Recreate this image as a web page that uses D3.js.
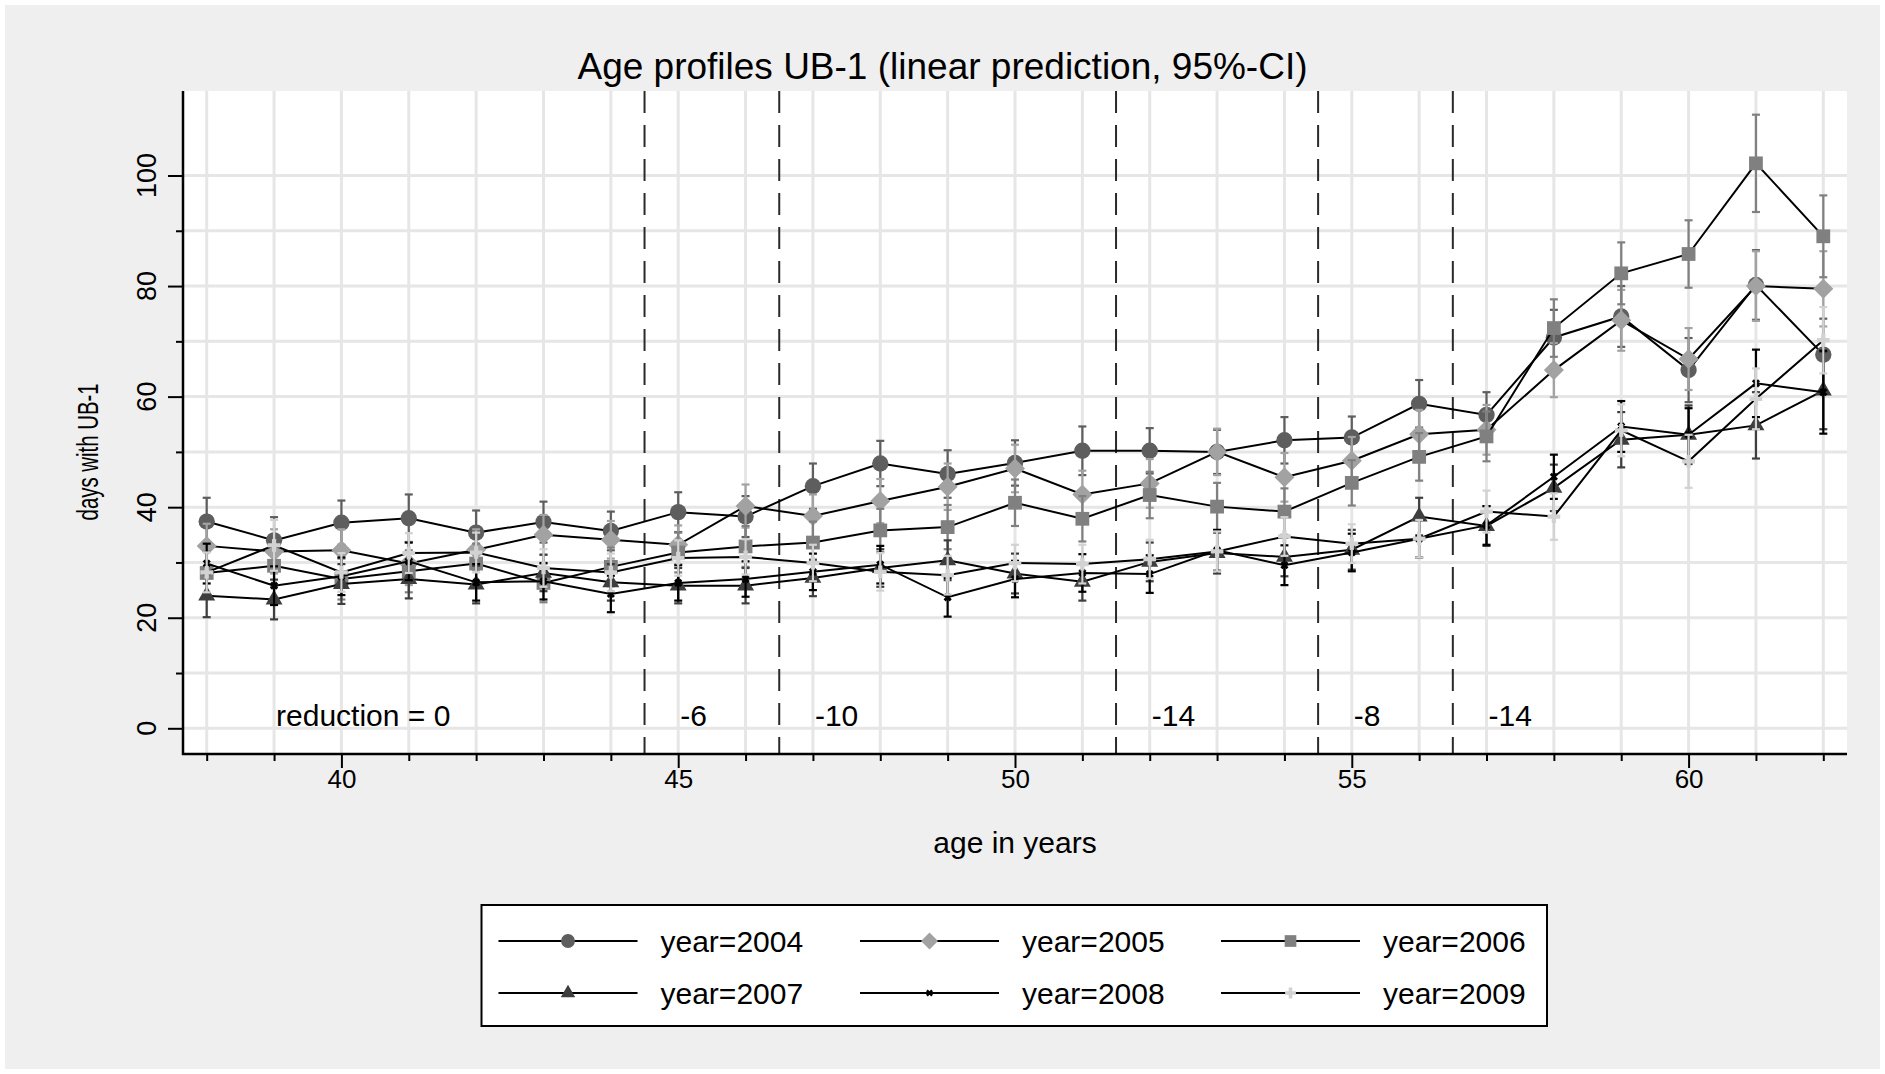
<!DOCTYPE html>
<html>
<head>
<meta charset="utf-8">
<script src="https://cdn.jsdelivr.net/npm/d3@7"></script>
<style>
  body { margin: 0; background: #fff; }
  svg { display: block; font-family: "Liberation Sans", Arial, Helvetica, sans-serif; }
</style>
</head>
<body>
<svg id="chart" width="1885" height="1074"></svg>
<script>
// ── data ───────────────────────────────────────────────────────────────────
const ages = [38, 39, 40, 41, 42, 43, 44, 45, 46, 47, 48, 49, 50, 51, 52, 53, 54, 55, 56, 57, 58, 59, 60, 61, 62];

const years = ['2004', '2005', '2006', '2007', '2008', '2009'];

const days2004 = [37.4, 34.0, 37.2, 38.0, 35.4, 37.3, 35.7, 39.1, 38.3, 43.8, 47.9, 46.0, 48.0, 50.2, 50.2, 50.0, 52.1, 52.6, 58.7, 56.7, 70.7, 74.5, 64.8, 80.2, 67.6];
const days2005 = [33.0, 32.0, 32.2, 29.8, 32.3, 35.0, 34.1, 33.2, 40.2, 38.4, 41.1, 43.7, 47.0, 42.3, 44.3, 50.0, 45.4, 48.4, 53.2, 54.0, 64.8, 73.8, 66.8, 80.0, 79.5];
const days2006 = [28.1, 29.4, 27.0, 28.4, 29.8, 26.3, 29.2, 31.8, 32.9, 33.6, 35.8, 36.4, 40.8, 37.9, 42.2, 40.1, 39.2, 44.4, 49.1, 52.8, 72.4, 82.3, 85.8, 102.2, 89.0];
const days2007 = [24.0, 23.3, 26.1, 27.0, 26.0, 28.1, 26.4, 25.8, 25.8, 27.2, 29.0, 30.4, 28.0, 26.5, 30.1, 31.7, 31.0, 32.3, 38.3, 36.6, 43.5, 52.2, 53.1, 54.8, 61.1];
const days2008 = [29.8, 25.8, 27.5, 30.2, 26.4, 26.6, 24.3, 26.3, 27.0, 28.3, 29.6, 23.7, 27.0, 28.1, 27.9, 32.2, 29.5, 31.8, 34.3, 36.7, 45.5, 54.6, 53.1, 62.4, 60.8];
const days2009 = [28.2, 33.1, 28.2, 31.7, 31.8, 29.0, 28.2, 30.8, 31.0, 29.9, 28.3, 27.7, 29.9, 29.7, 30.6, 32.0, 34.7, 33.4, 34.3, 39.2, 38.3, 53.9, 48.3, 59.6, 70.2];

// half width of the 95% CI
const ci2004 = [4.3, 4.2, 4.0, 4.3, 4.0, 3.7, 3.5, 3.6, 3.7, 4.1, 4.1, 4.3, 4.1, 4.4, 4.1, 4.0, 4.2, 3.8, 4.3, 4.1, 5.0, 5.5, 5.8, 6.3, 6.5];
const ci2005 = [4.0, 4.0, 3.8, 3.9, 3.7, 3.6, 3.4, 3.5, 3.9, 3.9, 4.0, 4.2, 4.3, 4.3, 4.4, 4.2, 4.4, 4.3, 4.4, 4.5, 4.9, 5.5, 5.6, 6.3, 6.8];
const ci2006 = [3.9, 3.8, 3.7, 3.8, 3.6, 3.5, 3.5, 3.6, 3.7, 3.8, 3.9, 4.0, 4.2, 4.1, 4.2, 4.3, 4.2, 4.1, 4.3, 4.5, 5.2, 5.6, 6.1, 8.8, 7.4];
const ci2007 = [3.9, 3.6, 3.6, 3.5, 3.4, 3.3, 3.3, 3.2, 3.2, 3.3, 3.4, 3.6, 3.6, 3.4, 3.5, 3.7, 3.5, 3.6, 3.4, 3.6, 4.2, 5.0, 5.3, 6.0, 7.0];
const ci2008 = [3.6, 3.5, 3.4, 3.4, 3.3, 3.3, 3.3, 3.2, 3.2, 3.3, 3.4, 3.5, 3.3, 3.4, 3.4, 3.7, 3.6, 3.4, 3.4, 3.5, 4.0, 4.6, 4.8, 6.1, 7.5];
const ci2009 = [3.6, 4.6, 3.5, 3.6, 3.6, 3.4, 3.4, 3.2, 3.2, 3.3, 3.4, 3.5, 3.3, 3.5, 3.5, 3.6, 3.5, 3.5, 3.4, 3.8, 4.2, 4.7, 4.8, 5.5, 6.0];

// reform cut-offs and reduction labels
const cutAges = [44.5, 46.5, 51.5, 54.5, 56.5];
const reductionAges = [39, 45, 47, 52, 55, 57];
const reductionLabels = ['reduction = 0', '-6', '-10', '-14', '-8', '-14'];

const yMajorTicks = [0, 20, 40, 60, 80, 100];
const yMinorTicks = [10, 30, 50, 70, 90];
const xMajorTicks = [40, 45, 50, 55, 60];

// ── styling per series ────────────────────────────────────────────────────
const seriesColor = ['#5e5e5e', '#a2a2a2', '#808080', '#3e3e3e', '#000000', '#d2d2d2'];
const seriesShape = ['circle', 'diamond', 'square', 'triangle', 'x', 'plus'];

const series = years.map((yr, i) => ({
  year: yr,
  color: seriesColor[i],
  shape: seriesShape[i],
  values: [days2004, days2005, days2006, days2007, days2008, days2009][i],
  ci: [ci2004, ci2005, ci2006, ci2007, ci2008, ci2009][i]
}));

const W = 1885, H = 1074;
const plot = { left: 183, right: 1847, top: 91, bottom: 754 };

const svg = d3.select('#chart');

const x = d3.scaleLinear().domain([38, 62]).range([206.7, 1823.3]);
const y = d3.scaleLinear().domain([0, 100]).range([728.3, 175.5]);

// backgrounds
svg.append('rect').attr('width', W).attr('height', H).attr('fill', '#ffffff');
svg.append('rect').attr('x', 5).attr('y', 5).attr('width', W - 10).attr('height', H - 10).attr('fill', '#efefef');
svg.append('rect')
  .attr('x', plot.left).attr('y', plot.top)
  .attr('width', plot.right - plot.left).attr('height', plot.bottom - plot.top)
  .attr('fill', '#ffffff');

// grid
const grid = svg.append('g').attr('stroke', '#e6e6e6').attr('stroke-width', 3);
grid.selectAll('line.h')
  .data(yMajorTicks.concat(yMinorTicks))
  .join('line')
  .attr('x1', plot.left).attr('x2', plot.right)
  .attr('y1', d => y(d)).attr('y2', d => y(d));
grid.selectAll('line.v')
  .data(ages)
  .join('line')
  .attr('class', 'v')
  .attr('y1', plot.top).attr('y2', plot.bottom)
  .attr('x1', d => x(d)).attr('x2', d => x(d));

// dashed cut-off lines
svg.append('g').selectAll('line')
  .data(cutAges)
  .join('line')
  .attr('x1', d => x(d)).attr('x2', d => x(d))
  .attr('y1', plot.top).attr('y2', plot.bottom)
  .attr('stroke', '#2a2a2a')
  .attr('stroke-width', 2)
  .attr('stroke-dasharray', '22,12');

// reduction labels
svg.append('g').selectAll('text')
  .data(reductionAges)
  .join('text')
  .attr('x', d => x(d) + 2)
  .attr('y', y(0) - 2)
  .attr('font-size', 30)
  .attr('fill', '#000')
  .text((d, i) => reductionLabels[i]);

// axes
const yAxisMinor = d3.axisLeft(y).tickValues(yMinorTicks).tickSize(7).tickFormat('');
const yAxisMajor = d3.axisLeft(y).tickValues(yMajorTicks).tickSize(15).tickFormat('');
const xAxisMinor = d3.axisBottom(x).tickValues(ages.filter(a => !xMajorTicks.includes(a))).tickSize(7).tickFormat('');
const xAxisMajor = d3.axisBottom(x).tickValues(xMajorTicks).tickSize(14).tickPadding(8).tickFormat(d3.format('d'));

[yAxisMinor, yAxisMajor].forEach(ax => {
  svg.append('g').attr('transform', `translate(${plot.left},0)`).call(ax)
    .call(g => g.select('.domain').remove())
    .selectAll('line').attr('stroke', '#000').attr('stroke-width', 2);
});
[xAxisMinor, xAxisMajor].forEach(ax => {
  svg.append('g').attr('transform', `translate(0,${plot.bottom})`).call(ax)
    .call(g => g.select('.domain').remove())
    .call(g => g.selectAll('text').attr('font-size', 26).attr('fill', '#000')
      .attr('font-family', null).attr('dy', null).attr('y', 34))
    .selectAll('line').attr('stroke', '#000').attr('stroke-width', 2);
});

svg.append('line').attr('x1', plot.left).attr('x2', plot.left)
  .attr('y1', plot.top).attr('y2', plot.bottom + 1)
  .attr('stroke', '#000').attr('stroke-width', 2.5);
svg.append('line').attr('x1', plot.left - 1).attr('x2', plot.right)
  .attr('y1', plot.bottom).attr('y2', plot.bottom)
  .attr('stroke', '#000').attr('stroke-width', 2.5);

// rotated y tick labels
svg.append('g').selectAll('text')
  .data(yMajorTicks)
  .join('text')
  .attr('transform', d => `translate(156,${y(d)}) rotate(-90)`)
  .attr('text-anchor', 'middle')
  .attr('font-size', 27)
  .text(d => d);

// axis titles
svg.append('text')
  .attr('transform', `translate(98,${y(50)}) rotate(-90)`)
  .attr('text-anchor', 'middle')
  .attr('font-size', 30)
  .attr('textLength', 137)
  .attr('lengthAdjust', 'spacingAndGlyphs')
  .text('days with UB-1');

svg.append('text')
  .attr('x', x(50)).attr('y', 853)
  .attr('text-anchor', 'middle')
  .attr('font-size', 30)
  .text('age in years');

svg.append('text')
  .attr('x', W / 2).attr('y', 79)
  .attr('text-anchor', 'middle')
  .attr('font-size', 37)
  .text('Age profiles UB-1 (linear prediction, 95%-CI)');

// ── markers ───────────────────────────────────────────────────────────────
const markerSize = { circle: 210, diamond: 200, square: 190, triangle: 125, x: 42, plus: 90 };

function markerPath(shape, k = 1) {
  const size = markerSize[shape] * k;
  switch (shape) {
    case 'circle': return d3.symbol(d3.symbolCircle, size)();
    case 'diamond': return d3.symbol(d3.symbolSquare, size)();
    case 'square': return d3.symbol(d3.symbolSquare, size)();
    case 'triangle': return d3.symbol(d3.symbolTriangle, size)();
    case 'x': return d3.symbol(d3.symbolCross, size)();
    case 'plus': return d3.symbol(d3.symbolCross, size)();
  }
}
function markerRotate(shape) {
  return (shape === 'diamond' || shape === 'x') ? 45 : 0;
}

const line = d3.line().x(d => x(d.age)).y(d => y(d.v));

series.forEach(s => {
  const pts = ages.map((a, i) => ({ age: a, v: s.values[i], lo: s.values[i] - s.ci[i], hi: s.values[i] + s.ci[i] }));
  const g = svg.append('g').attr('class', `series-${s.year}`);

  // CI caps
  const bars = g.append('g').attr('stroke', s.color).attr('stroke-width', 2.2).attr('fill', 'none');
  bars.selectAll('line.stem').data(pts).join('line').attr('class', 'stem')
    .attr('x1', d => x(d.age)).attr('x2', d => x(d.age))
    .attr('y1', d => y(d.lo)).attr('y2', d => y(d.hi));
  bars.selectAll('line.top').data(pts).join('line').attr('class', 'top')
    .attr('x1', d => x(d.age) - 4).attr('x2', d => x(d.age) + 4)
    .attr('y1', d => y(d.hi)).attr('y2', d => y(d.hi));
  bars.selectAll('line.bot').data(pts).join('line').attr('class', 'bot')
    .attr('x1', d => x(d.age) - 4).attr('x2', d => x(d.age) + 4)
    .attr('y1', d => y(d.lo)).attr('y2', d => y(d.lo));

  // connecting line
  g.append('path').datum(pts)
    .attr('d', line)
    .attr('fill', 'none')
    .attr('stroke', '#000')
    .attr('stroke-width', 2);

  // markers
  g.selectAll('path.mk').data(pts).join('path').attr('class', 'mk')
    .attr('d', markerPath(s.shape))
    .attr('transform', d => `translate(${x(d.age)},${y(d.v)}) rotate(${markerRotate(s.shape)})`)
    .attr('fill', s.color);
});

// ── legend ────────────────────────────────────────────────────────────────
const legend = { x: 481.5, y: 905, w: 1065.5, h: 121 };
svg.append('rect')
  .attr('x', legend.x).attr('y', legend.y)
  .attr('width', legend.w).attr('height', legend.h)
  .attr('fill', '#fff').attr('stroke', '#000').attr('stroke-width', 2);

const rowY = [941, 993];
const colX = [498.5, 860, 1221];
const item = svg.append('g').selectAll('g')
  .data(series)
  .join('g')
  .attr('transform', (d, i) => `translate(${colX[i % 3]},${rowY[Math.floor(i / 3)]})`);
item.append('line')
  .attr('x1', 0).attr('x2', 139)
  .attr('stroke', '#000').attr('stroke-width', 2);
item.append('path')
  .attr('d', d => markerPath(d.shape, 0.72))
  .attr('transform', d => `translate(69.5,0) rotate(${markerRotate(d.shape)})`)
  .attr('fill', d => d.color);
item.append('text')
  .attr('x', 162).attr('y', 10.5)
  .attr('font-size', 30)
  .text(d => `year=${d.year}`);
</script>
</body>
</html>
